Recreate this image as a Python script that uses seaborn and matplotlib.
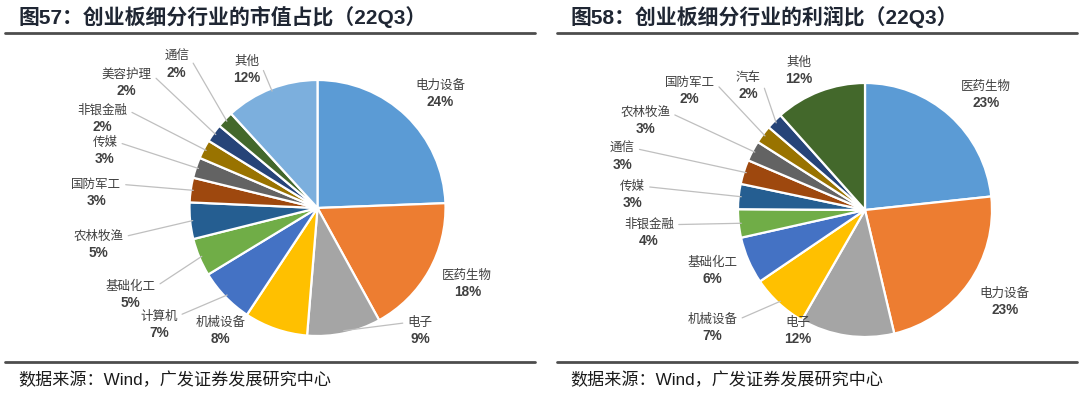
import matplotlib
matplotlib.use("Agg")
import matplotlib.pyplot as plt
import seaborn as sns
from matplotlib.lines import Line2D
import numpy as np

sns.set_theme()
sns.set_style("white")
plt.rcParams['font.family'] = ['Liberation Sans', 'Noto Sans CJK SC', 'DejaVu Sans']

# Data: left panel (market cap share), right panel (profit share)
cap_names = ["电力设备", "医药生物", "电子", "机械设备", "计算机", "基础化工", "农林牧渔",
             "国防军工", "传媒", "非银金融", "美容护理", "通信", "其他"]
cap_values = [24.4, 17.6, 9.3, 8.0, 7.0, 4.8, 4.6, 3.1, 2.6, 2.4, 2.3, 2.1, 11.8]

profit_names = ["医药生物", "电力设备", "电子", "机械设备", "基础化工", "非银金融", "传媒",
                "通信", "农林牧渔", "国防军工", "汽车", "其他"]
profit_values = [23.3, 23.0, 12.0, 7.2, 6.0, 3.6, 3.2, 3.1, 2.6, 2.3, 2.1, 11.6]

office = ["#5B9BD5", "#ED7D31", "#A5A5A5", "#FFC000", "#4472C4", "#70AD47",
          "#255E91", "#9E480E", "#636363", "#997300", "#264478", "#43682B"]
cap_colors = sns.color_palette(office + ["#7CAFDD"])
profit_colors = sns.color_palette(office)

# label placement (in pie-radius units, relative to centre) and leader flags
cap_label_pos = [(0.96, 0.89), (1.17, -0.59), (0.80, -0.96), (-0.76, -0.96), (-1.24, -0.91),
                 (-1.46, -0.68), (-1.71, -0.29), (-1.73, 0.12), (-1.66, 0.45), (-1.68, 0.70),
                 (-1.49, 0.98), (-1.10, 1.12), (-0.55, 1.08)]
cap_leader = [False, False, True, False, True, True, True, True, True, True, True, True, True]

profit_label_pos = [(0.95, 0.91), (1.10, -0.72), (-0.53, -0.95), (-1.20, -0.93), (-1.20, -0.48),
                    (-1.70, -0.18), (-1.83, 0.12), (-1.91, 0.42), (-1.73, 0.70), (-1.38, 0.94),
                    (-0.92, 0.98), (-0.52, 1.10)]
profit_leader = [False, False, False, True, False, True, True, True, True, True, True, False]

W, H = 1080, 396
fig = plt.figure(figsize=(W / 100, H / 100), dpi=100)
fig.patch.set_facecolor("white")

TXT = "#404040"


def draw_panel(box, cx, cy, R, values, names, colors, label_pos, leader):
    # box = (x0, top, x1, bottom) in pixels from top-left
    x0, top, x1, bottom = box
    ax = fig.add_axes([x0 / W, 1 - bottom / H, (x1 - x0) / W, (bottom - top) / H])
    ax.pie(values, colors=colors, startangle=90, counterclock=False,
           radius=1, center=(0, 0),
           wedgeprops=dict(edgecolor="white", linewidth=1.6))
    ax.set_aspect("auto")
    ax.set_xlim((x0 - cx) / R, (x1 - cx) / R)
    ax.set_ylim((cy - bottom) / R, (cy - top) / R)
    ax.axis("off")

    total = float(sum(values))
    cum = np.cumsum(values) - np.array(values) / 2
    for v, name, c, (lx, ly), ld in zip(values, names, cum, label_pos, leader):
        ang = np.deg2rad(90 - c / total * 360)
        px, py = np.cos(ang), np.sin(ang)
        pct = f"{v / total * 100:.0f}%"
        if ld:
            rel = (1, 0.5) if lx < px else (0, 0.5)
            ax.annotate(name, xy=(px * 0.98, py * 0.98), xytext=(lx, ly + 0.065),
                        ha="center", va="center", fontsize=9, color=TXT,
                        family=["Noto Sans CJK SC"],
                        arrowprops=dict(arrowstyle="-", color="#BFBFBF", lw=0.9,
                                        shrinkA=1, shrinkB=0, relpos=rel))
        else:
            ax.text(lx, ly + 0.065, name, ha="center", va="center", fontsize=9,
                    color=TXT, family=["Noto Sans CJK SC"])
        ax.text(lx, ly - 0.065, pct, ha="center", va="center", fontsize=9.8,
                color=TXT, fontweight="bold", family=["Liberation Sans"])
    return ax


draw_panel((5, 40, 535, 355), 317.5, 208, 128, cap_values, cap_names, cap_colors,
           cap_label_pos, cap_leader)
draw_panel((560, 40, 1075, 355), 865, 210, 127, profit_values, profit_names, profit_colors,
           profit_label_pos, profit_leader)

# titles, rules and source notes
titles = ["图57：创业板细分行业的市值占比（22Q3）", "图58：创业板细分行业的利润比（22Q3）"]
sources = ["数据来源：Wind，广发证券发展研究中心", "数据来源：Wind，广发证券发展研究中心"]
panels_x = [(5, 535, 18), (557, 1077, 570)]

for (rx0, rx1, tx), title, src in zip(panels_x, titles, sources):
    fig.text(tx / W, 1 - 17 / H, title, ha="left", va="center", fontsize=15,
             fontweight="bold", color="#1f2633")
    fig.add_artist(Line2D([rx0 / W, rx1 / W], [1 - 33 / H, 1 - 33 / H],
                          transform=fig.transFigure, color="#4d4d4d", lw=2))
    fig.add_artist(Line2D([rx0 / W, rx1 / W], [1 - 362 / H, 1 - 362 / H],
                          transform=fig.transFigure, color="#4d4d4d", lw=2))
    fig.text(tx / W, 1 - 380 / H, src, ha="left", va="center", fontsize=12.3,
             color="#1a1a1a")

fig.savefig("out.png", dpi=100, facecolor="white")
